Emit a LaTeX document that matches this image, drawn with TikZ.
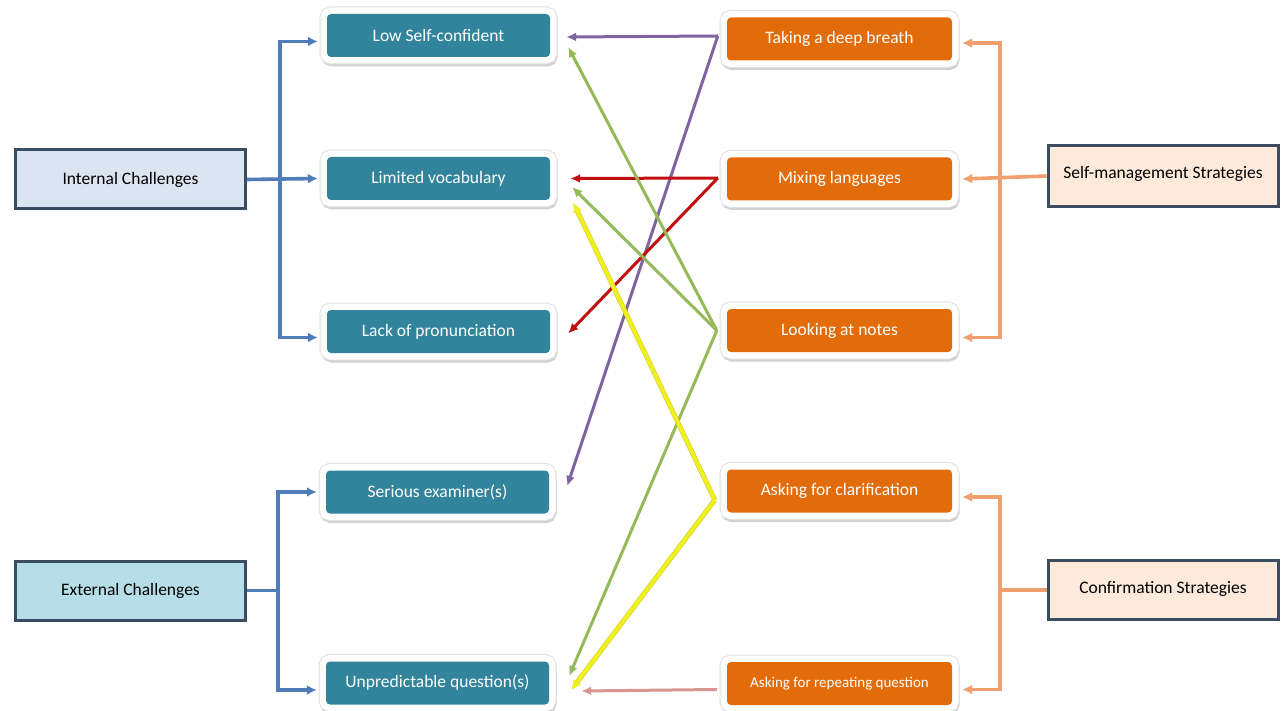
\documentclass[tikz,border=0pt]{standalone}
\usepackage{fontspec}
\setmainfont{Carlito}
\usetikzlibrary{arrows.meta,calc}
\definecolor{tealc}{RGB}{49,132,155}
\definecolor{orangec}{RGB}{227,108,10}
\definecolor{bluec}{RGB}{79,125,185}
\definecolor{orlc}{RGB}{240,160,110}
\definecolor{purc}{RGB}{128,100,162}
\definecolor{redc}{RGB}{192,16,16}
\definecolor{grnc}{RGB}{150,185,90}
\definecolor{yelc}{RGB}{240,240,30}
\definecolor{yeldk}{RGB}{200,200,40}
\definecolor{pinkc}{RGB}{217,149,148}
\definecolor{bordc}{RGB}{58,76,98}
\definecolor{intc}{RGB}{219,229,241}
\definecolor{extc}{RGB}{183,222,232}
\definecolor{peachc}{RGB}{253,234,218}
\begin{document}
\begin{tikzpicture}[x=1pt,y=-1pt,
  framed/.style={rounded corners=4pt, minimum height=43pt, text=white,
    font=\fontsize{17.5}{20}\selectfont, inner sep=0pt,
    preaction={draw=black!18, line width=13pt, transform canvas={shift={(1pt,-3pt)}}},
    preaction={draw=black!12, line width=15pt},
    preaction={draw=white, line width=13pt}},
  tealbox/.style={framed, fill=tealc, minimum width=223pt},
  orbox/.style={framed, fill=orangec, minimum width=225pt},
  catbox/.style={draw=bordc, line width=3pt, minimum width=230pt, minimum height=59pt,
    font=\fontsize{17.5}{20}\selectfont, inner sep=0pt},
  bconn/.style={draw=bluec, line width=3.6pt},
  oconn/.style={draw=orlc, line width=3.6pt},
  tipb/.style={{Latex[length=10pt,width=10pt]}-{Latex[length=10pt,width=10pt]}},
  tipe/.style={-{Latex[length=10pt,width=10pt]}},
  cconn/.style={line width=3pt, -{Latex[length=10pt,width=9pt]}},
]
\useasboundingbox[fill=white] (0,0) rectangle (1282,711);

% left challenge boxes
\node[tealbox] (LS) at (438.5,35.5) {Low Self-confident};
\node[tealbox] (LV) at (438.5,178.5) {Limited vocabulary};
\node[tealbox] (LP) at (438.5,331.5) {Lack of pronunciation};
\node[tealbox] (SE) at (437.5,492) {Serious examiner(s)};
\node[tealbox] (UQ) at (437.5,683) {Unpredictable question(s)};

% right strategy boxes
\node[orbox] (TB) at (839.5,39) {Taking a deep breath};
\node[orbox] (ML) at (839.5,179) {Mixing languages};
\node[orbox] (LN) at (839.5,330.5) {Looking at notes};
\node[orbox] (AC) at (839.5,491) {Asking for clarification};
\node[orbox, font=\fontsize{15}{17}\selectfont] (AR) at (839.5,683.5) {Asking for repeating question};

% category boxes
\node[catbox, fill=intc] (IC) at (130.5,179.5) {Internal Challenges};
\node[catbox, fill=extc] (EC) at (130.5,590.5) {External Challenges};
\node[catbox, fill=peachc, minimum height=61pt, text depth=8pt] (SM) at (1163,176) {Self-management Strategies};
\node[catbox, fill=peachc, text depth=5pt] (CS) at (1163,590) {Confirmation Strategies};

% bracket end points
\coordinate (ib) at (280,0);
\coordinate (eb) at (278,0);
\coordinate (ob) at (1000,0);
\coordinate (lsa) at ($(LS.west)+(-9,6)$);
\coordinate (lva) at ($(LV.west)+(-9,0)$);
\coordinate (lpa) at ($(LP.west)+(-9,6)$);
\coordinate (sea) at ($(SE.west)+(-9,0)$);
\coordinate (uqa) at ($(UQ.west)+(-9,7)$);
\coordinate (tba) at ($(TB.east)+(10,4)$);
\coordinate (mla) at ($(ML.east)+(10,0)$);
\coordinate (lna) at ($(LN.east)+(10,7)$);
\coordinate (aca) at ($(AC.east)+(10,6)$);
\coordinate (ara) at ($(AR.east)+(10,6)$);

% blue brackets
\draw[bconn, tipe] (IC.east) -- (lva);
\draw[bconn, tipb] (lsa) -- (ib |- lsa) -- (ib |- lpa) -- (lpa);
\draw[bconn] (EC.east) -- (eb |- EC.east);
\draw[bconn, tipb] (sea) -- (eb |- sea) -- (eb |- uqa) -- (uqa);

% orange brackets
\draw[oconn, tipe] (SM.west) -- (mla);
\draw[oconn, tipb] (tba) -- (ob |- tba) -- (ob |- lna) -- (lna);
\draw[oconn] (CS.west) -- (ob |- CS.west);
\draw[oconn, tipb] (aca) -- (ob |- aca) -- (ob |- ara) -- (ara);

% start points of cross connectors
\coordinate (s1) at ($(TB.west)+(-9,-3)$);
\coordinate (s2) at ($(ML.west)+(-9,-1)$);
\coordinate (s3) at ($(LN.west)+(-10,0)$);
\coordinate (s4) at ($(AC.west)+(-12,9)$);
\coordinate (s5) at ($(AR.west)+(-10,6)$);

% cross connectors
\draw[cconn, purc] (s1) -- ($(LS.east)+(16,1.5)$);
\draw[cconn, purc] (s1) -- ($(SE.east)+(18,-6)$);
\draw[cconn, redc] (s2) -- ($(LV.east)+(20,0)$);
\draw[cconn, redc] (s2) -- ($(LP.east)+(18,2)$);
\draw[cconn, grnc] (s3) -- ($(LS.east)+(18,11.5)$);
\draw[cconn, grnc] (s3) -- ($(LV.east)+(22,8.5)$);
\draw[cconn, grnc] (s3) -- ($(UQ.east)+(20,-7)$);
\draw[cconn, yelc, line width=3.8pt, preaction={draw=yeldk, line width=4.8pt}] (s4) -- ($(LV.east)+(23,24)$);
\draw[cconn, yelc, line width=3.8pt, preaction={draw=yeldk, line width=4.8pt}] (s4) -- ($(UQ.east)+(22,7)$);
\draw[cconn, pinkc] (s5) -- ($(UQ.east)+(32,8)$);
\end{tikzpicture}
\end{document}
